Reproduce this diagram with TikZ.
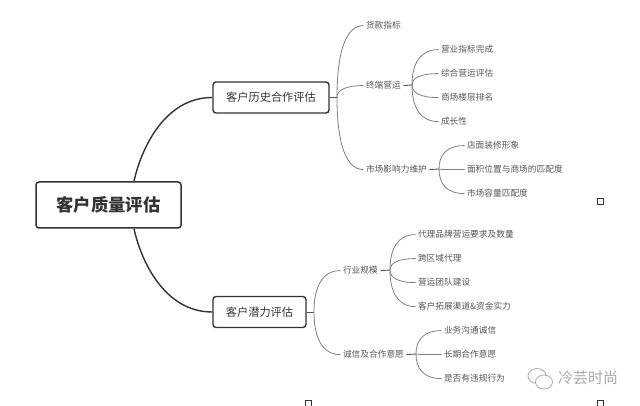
\documentclass[tikz,border=0pt]{standalone}
\usepackage{fontspec}
\setmainfont{Noto Sans CJK SC}
\usetikzlibrary{calc,shapes.geometric}
\definecolor{inkc}{HTML}{333333}
\definecolor{twigc}{HTML}{7F7F7F}
\definecolor{labelc}{HTML}{555555}
\definecolor{wmc}{HTML}{A8A8A8}
\tikzset{
  rootbox/.style={draw=inkc,line width=1.5pt,rounded corners=3pt,fill=white,text=inkc,minimum width=145pt,minimum height=46pt,inner sep=0pt,font=\fontsize{17.3}{20}\bfseries\selectfont},
  mainbox/.style={draw=inkc,line width=1.4pt,rounded corners=3pt,fill=white,text=inkc,minimum height=31pt,inner sep=0pt,font=\fontsize{11.2}{14}\selectfont},
  leaf/.style={anchor=west,inner xsep=0pt,inner ysep=0pt,outer xsep=2.5pt,xshift=-2.5pt,yshift=-.6pt,text=labelc,font=\fontsize{8.7}{11}\selectfont},
  mainlink/.style={draw=inkc,line width=1.4pt},
  twigline/.style={draw=twigc,line width=.8pt},
  stubline/.style={draw=labelc,line width=.9pt},
  tinysq/.style={draw=inkc,line width=.7pt,fill=white,minimum size=6pt,inner sep=0pt},
}
\newcommand{\branch}[2]{%
  \draw[twigline] (#1) .. controls ($(#1)!0.6!(#1|-#2.west)$) and ($(#2.west)!0.7!(#1|-#2.west)$) .. (#2.west);}
\begin{document}
\begin{tikzpicture}[x=1pt,y=-1pt]
\useasboundingbox (0,0) rectangle (640,406);
% boxes
\node[rootbox] (root) at (108.5,205) {客户质量评估};
\node[mainbox,minimum width=116pt] (hist) at (271,97.5) {客户历史合作评估};
\node[mainbox,minimum width=93pt] (pot) at (259.5,312) {客户潜力评估};
% junctions
\coordinate (rx) at (134,0);
\coordinate (jh) at (337,97.5);
\coordinate (jt) at (412,85);
\coordinate (jm) at (439,169);
\coordinate (jp) at (314,312);
\coordinate (jr) at (390,270);
\coordinate (jc) at (416,354);
% leaves
\node[leaf] (a1) at (366,25) {货款指标};
\node[leaf] (a2) at (366,85) {终端营运};
\node[leaf] (a3) at (366,169) {市场影响力维护};
\node[leaf] (b1) at (441,49) {营业指标完成};
\node[leaf] (b2) at (441,73) {综合营运评估};
\node[leaf] (b3) at (441,97) {商场楼层排名};
\node[leaf] (b4) at (441,121) {成长性};
\node[leaf] (c1) at (467,145) {店面装修形象};
\node[leaf] (c2) at (467,169) {面积位置与商场的匹配度};
\node[leaf] (c3) at (467,193) {市场容量匹配度};
\node[leaf] (d1) at (343,270) {行业规模};
\node[leaf] (d2) at (343,354) {诚信及合作意愿};
\node[leaf] (e1) at (418,234) {代理品牌营运要求及数量};
\node[leaf] (e2) at (418,258) {跨区域代理};
\node[leaf] (e3) at (418,282) {营运团队建设};
\node[leaf] (e4) at (418,306) {客户拓展渠道\&资金实力};
\node[leaf] (f1) at (444,330) {业务沟通诚信};
\node[leaf] (f2) at (444,354) {长期合作意愿};
\node[leaf] (f3) at (444,378) {是否有违规行为};
% main links
\draw[mainlink] (root.north -| rx) .. controls +(7,-32) and +(-48,0) .. (hist.west);
\draw[mainlink] (root.south -| rx) .. controls +(7,32) and +(-48,0) .. (pot.west);
% stubs
\draw[stubline] (hist.east) -- (jh);
\draw[stubline] (a2.east) -- (jt);
\draw[stubline] (a3.east) -- (jm);
\draw[stubline] (pot.east) -- (jp);
\draw[stubline] (d1.east) -- (jr);
\draw[stubline] (d2.east) -- (jc);
% branches
\branch{jh}{a1}\branch{jh}{a2}\branch{jh}{a3}
\branch{jt}{b1}\branch{jt}{b2}\branch{jt}{b3}\branch{jt}{b4}
\branch{jm}{c1}\branch{jm}{c2}\branch{jm}{c3}
\branch{jp}{d1}\branch{jp}{d2}
\branch{jr}{e1}\branch{jr}{e2}\branch{jr}{e3}\branch{jr}{e4}
\branch{jc}{f1}\branch{jc}{f2}\branch{jc}{f3}
% small squares
\node[tinysq] (s1) at (600,201) {};
\node[tinysq] (s2) at (308,403) {};
\node[tinysq] (s3) at (600,403) {};
% watermark
\draw[wmc,line width=.8pt,fill=white] (537,376) ellipse (9pt and 7.5pt);
\draw[wmc,line width=.8pt,fill=white] (544,382) ellipse (8.5pt and 7pt);
\node[text=wmc,anchor=west,inner sep=0pt,font=\fontsize{15}{18}\selectfont] (wm) at (558,378) {冷芸时尚};
\end{tikzpicture}
\end{document}
